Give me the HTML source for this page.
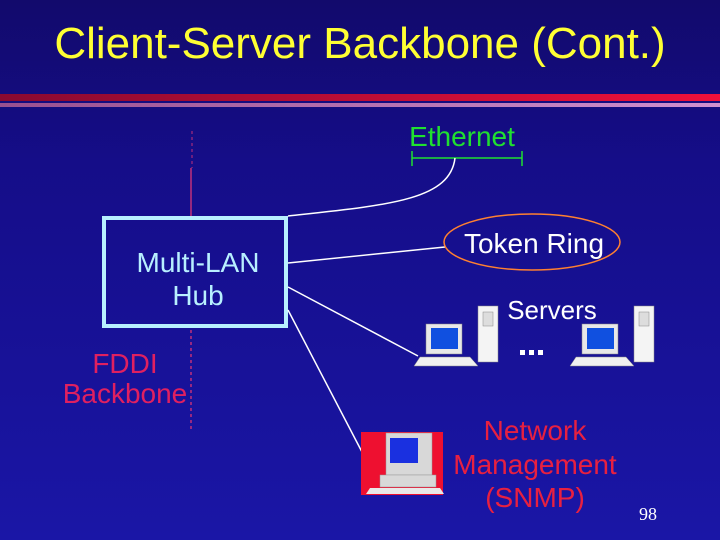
<!DOCTYPE html>
<html><head><style>
html,body{margin:0;padding:0;}
body{width:720px;height:540px;overflow:hidden;background:linear-gradient(180deg,#120a6c 0%,#150d88 30%,#1a16a6 100%);font-family:"Liberation Sans",sans-serif;}
</style></head><body>
<svg width="720" height="540" xmlns="http://www.w3.org/2000/svg" style="position:absolute;left:0;top:0">
<defs>
<linearGradient id="rb" x1="0" x2="1"><stop offset="0" stop-color="#8a0a30"/><stop offset="1" stop-color="#f0103a"/></linearGradient>
<linearGradient id="pb" x1="0" x2="1"><stop offset="0" stop-color="#9a5090"/><stop offset="1" stop-color="#d090d0"/></linearGradient>
</defs>
<text x="360" y="58" fill="#ffff33" font-size="44" text-anchor="middle">Client-Server Backbone (Cont.)</text>
<rect x="0" y="94" width="720" height="7" fill="url(#rb)"/>
<rect x="0" y="103" width="720" height="4" fill="url(#pb)"/>
<line x1="192" y1="131" x2="192" y2="168" stroke="#c0307a" stroke-width="1" stroke-dasharray="3,3"/>
<line x1="191" y1="168" x2="191" y2="216" stroke="#c0307a" stroke-width="1.5"/>
<line x1="191" y1="330" x2="191" y2="430" stroke="#c0307a" stroke-width="1.5" stroke-dasharray="3,3"/>
<rect x="104" y="218" width="182" height="108" fill="none" stroke="#b8f0ff" stroke-width="4"/>
<text x="198" y="272" fill="#b8f0ff" font-size="28" text-anchor="middle">Multi-LAN</text>
<text x="198" y="305" fill="#b8f0ff" font-size="28" text-anchor="middle">Hub</text>
<text x="125" y="373" fill="#e02060" font-size="28" text-anchor="middle">FDDI</text>
<text x="125" y="403" fill="#e02060" font-size="28" text-anchor="middle">Backbone</text>
<text x="462" y="146" fill="#20e030" font-size="28" text-anchor="middle">Ethernet</text>
<line x1="412" y1="158" x2="522" y2="158" stroke="#20e030" stroke-width="1.5"/>
<line x1="412" y1="151" x2="412" y2="166" stroke="#20e030" stroke-width="1.5"/>
<line x1="522" y1="151" x2="522" y2="166" stroke="#20e030" stroke-width="1.5"/>
<path d="M288 216 C 390 205, 450 200, 455 158" fill="none" stroke="#fff" stroke-width="1.5"/>
<line x1="288" y1="263" x2="445" y2="247" stroke="#fff" stroke-width="1.5"/>
<ellipse cx="532" cy="242" rx="88" ry="28" fill="none" stroke="#ff8030" stroke-width="1.5"/>
<text x="534" y="253" fill="#fff" font-size="28" text-anchor="middle">Token Ring</text>
<line x1="288" y1="287" x2="418" y2="356" stroke="#fff" stroke-width="1.5"/>
<text x="552" y="319" fill="#fff" font-size="26" text-anchor="middle">Servers</text>
<g id="srv">
<rect x="478" y="306" width="20" height="56" fill="#f4f4f4" stroke="#888" stroke-width="0.5"/>
<rect x="483" y="312" width="10" height="14" fill="#ddd" stroke="#888" stroke-width="0.5"/>
<rect x="426" y="324" width="36" height="30" fill="#e8e8e8" stroke="#888" stroke-width="0.5"/>
<rect x="431" y="328" width="27" height="21" fill="#1050e0"/>
<polygon points="420,357 470,357 478,366 414,366" fill="#f0f0f0" stroke="#888" stroke-width="0.5"/>
</g>
<use href="#srv" transform="translate(156,0)"/>
<rect x="520" y="350" width="5" height="5" fill="#fff"/><rect x="529" y="350" width="5" height="5" fill="#fff"/><rect x="538" y="350" width="5" height="5" fill="#fff"/>
<line x1="288" y1="310" x2="362" y2="452" stroke="#fff" stroke-width="1.5"/>
<rect x="361" y="432" width="82" height="63" fill="#ee1030"/>
<rect x="386" y="433" width="46" height="42" fill="#d8d8d8" stroke="#999" stroke-width="0.5"/>
<rect x="390" y="438" width="28" height="25" fill="#1a30e0"/>
<rect x="380" y="475" width="56" height="12" fill="#d8d8d8" stroke="#999" stroke-width="0.5"/>
<polygon points="370,488 440,488 444,494 366,494" fill="#e8e8e8"/>
<text x="535" y="440" fill="#e82040" font-size="28" text-anchor="middle">Network</text>
<text x="535" y="474" fill="#e82040" font-size="28" text-anchor="middle">Management</text>
<text x="535" y="507" fill="#e82040" font-size="28" text-anchor="middle">(SNMP)</text>
<text x="648" y="520" fill="#fff" font-size="18" font-family="Liberation Serif,serif" text-anchor="middle">98</text>
</svg>
</body></html>
